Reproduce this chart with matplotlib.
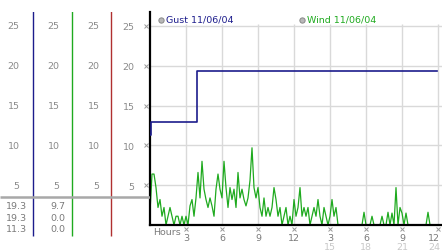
import numpy as np
import matplotlib
matplotlib.use("Agg")
import matplotlib.pyplot as plt

# ---------------- data ----------------
gust_hours = [0.0, 0.08, 3.95, 23.9]
gust_vals = [11.3, 13.0, 19.3, 19.3]

wind_vals = [
    1.6, 6.4, 6.4, 4.7, 2.2, 3.2,   # h0
    1.1, 2.2, 0.0, 1.1, 2.2, 1.1,   # h1
    0.0, 1.1, 1.1, 0.0, 1.1, 0.0,   # h2
    1.1, 0.0, 2.4, 3.2, 1.1, 3.4,   # h3
    6.6, 3.4, 8.0, 4.5, 3.2, 2.2,   # h4
    3.4, 2.4, 1.1, 4.5, 6.4, 4.5,   # h5
    3.4, 8.0, 4.7, 2.2, 4.7, 3.2,   # h6
    4.5, 2.2, 6.6, 3.4, 4.5, 3.2,   # h7
    2.4, 3.4, 5.6, 9.7, 4.7, 3.4,   # h8
    4.7, 2.2, 1.1, 3.4, 1.1, 2.2,   # h9
    1.1, 2.2, 4.7, 3.2, 1.1, 2.2,   # h10
    0.0, 1.1, 2.2, 0.0, 1.1, 0.0,   # h11
    3.2, 1.1, 2.2, 4.7, 1.1, 2.2,   # h12
    1.1, 2.2, 0.0, 1.1, 2.2, 1.1,   # h13
    3.2, 1.1, 0.0, 2.2, 1.1, 0.0,   # h14
    1.1, 3.2, 1.1, 2.2, 0.0, 0.0,   # h15
    0.0, 0.0, 0.0, 0.0, 0.0, 0.0,   # h16
    0.0, 0.0, 0.0, 0.0, 0.0, 1.6,   # h17
    0.0, 0.0, 0.0, 1.1, 0.0, 0.0,   # h18
    0.0, 0.0, 1.1, 0.0, 0.0, 1.6,   # h19
    0.0, 1.5, 0.0, 4.7, 0.0, 2.2,   # h20
    1.5, 0.0, 1.5, 0.0, 0.0, 0.0,   # h21
    0.0, 0.0, 0.0, 0.0, 0.0, 0.0,   # h22
    0.0, 1.6, 0.0, 0.0, 0.0, 0.0,   # h23
]
wind_hours = [i / 6.0 for i in range(len(wind_vals))]

y_ticks = [5, 10, 15, 20, 25]
x_ticks = [3, 6, 9, 12, 15, 18, 21, 24]
x_labels_row1 = ["3", "6", "9", "12", "3", "6", "9", "12"]
x_labels_row2 = ["", "", "", "", "15", "18", "21", "24"]

gust_stats = ["19.3", "19.3", "11.3"]
wind_stats = ["9.7", "0.0", "0.0"]
legend_labels = ["Gust 11/06/04", "Wind 11/06/04"]

# ---------------- style ----------------
W, H = 442, 253
GUST_C = "#1c1c8c"
WIND_C = "#1faa1f"
GRID_C = "#d9d9d9"
LBL_C = "#8a8a8a"
PX_PER_UNIT = 7.96
PX_PER_HOUR = 12.0
ZERO_PY = 226
TOP_PY = 13

def val(py):
    return (ZERO_PY - py) / PX_PER_UNIT

fig = plt.figure(figsize=(W / 100, H / 100), dpi=100)
fig.patch.set_facecolor("white")

# main axes
ax = fig.add_axes([150 / W, 1 - ZERO_PY / H, (W - 150) / W, (ZERO_PY - TOP_PY) / H])
ax.set_xlim(0, (W - 150) / PX_PER_HOUR)
ax.set_ylim(0, val(TOP_PY))
ax.set_facecolor("white")
for s in ["top", "right"]:
    ax.spines[s].set_visible(False)
ax.spines["left"].set_color("black")
ax.spines["left"].set_linewidth(1.6)
ax.spines["bottom"].set_color("black")
ax.spines["bottom"].set_linewidth(1.6)

grid_top = 25.2
ax.hlines(y_ticks, 0, ax.get_xlim()[1], color=GRID_C, lw=1.0, zorder=0)
ax.vlines(x_ticks, 0, grid_top, color=GRID_C, lw=1.0, zorder=0)

ax.plot(wind_hours, wind_vals, color=WIND_C, lw=0.9, zorder=2)
ax.plot(gust_hours, gust_vals, color=GUST_C, lw=1.2, drawstyle="steps-post", zorder=3)

ax.set_yticks(y_ticks)
ax.set_yticklabels([str(v) for v in y_ticks])
ax.tick_params(axis="y", length=0, pad=11, labelsize=6.8, labelcolor=LBL_C)
ax.set_xticks([])

# small tick glyphs
ax.plot(np.full(len(y_ticks), -0.3), y_ticks, marker="x", ls="none", ms=2.2,
        mew=0.7, color="#9a9a9a", clip_on=False)
trans = ax.get_xaxis_transform()
ax.plot(x_ticks, [-0.018] * len(x_ticks), marker="x", ls="none", ms=2.2,
        mew=0.7, color="#9a9a9a", clip_on=False, transform=trans)
last = len(x_ticks) - 1
for i, (xt, l1, l2) in enumerate(zip(x_ticks, x_labels_row1, x_labels_row2)):
    if i == last:
        xpos, ha = xt + 0.2, "right"
    else:
        xpos, ha = xt, "center"
    ax.text(xpos, -0.058, l1, transform=trans, ha=ha, va="center",
            fontsize=6.8, color="#7a7a7a", clip_on=False)
    if l2:
        ax.text(xpos, -0.1, l2, transform=trans, ha=ha, va="center",
                fontsize=6.8, color="#c8c8c8", clip_on=False)
ax.text(0.25, -0.03, "Hours", transform=trans, ha="left", va="center",
        fontsize=6.8, color="#7a7a7a", clip_on=False)

# legend
leg_y = val(20.5)
for (cx, tx), lab, col in zip([(0.92, 1.33), (12.67, 13.08)], legend_labels, [GUST_C, WIND_C]):
    ax.plot([cx], [leg_y], marker="o", ms=3.8, mfc="#b8b8b8", mec="#888888",
            mew=0.7, clip_on=False)
    ax.text(tx, leg_y, lab, ha="left", va="center", fontsize=6.8, color=col)

# left panel
BOT_PY = 240
axl = fig.add_axes([0, 1 - BOT_PY / H, 150 / W, (BOT_PY - TOP_PY) / H])
axl.set_xlim(0, 150)
axl.set_ylim(val(BOT_PY), val(TOP_PY))
axl.axis("off")

col_lines = [(33, GUST_C), (72, WIND_C), (111, "#b03030")]
for x, c in col_lines:
    axl.vlines(x, val(237), val(12), color=c, lw=1.0)
axl.hlines(val(197.5), 0, 150, color="#a8a8a8", lw=1.8)

for xr in [19.5, 59.5, 99.5]:
    for v in y_ticks:
        axl.text(xr, v, str(v), ha="right", va="center", fontsize=6.8, color=LBL_C)

row_py = [207, 218.5, 230]
for py, g, w in zip(row_py, gust_stats, wind_stats):
    axl.text(27.5, val(py), g, ha="right", va="center", fontsize=6.8, color="#7a7a7a")
    axl.text(65.5, val(py), w, ha="right", va="center", fontsize=6.8, color="#7a7a7a")

fig.savefig("out.png", dpi=100)
